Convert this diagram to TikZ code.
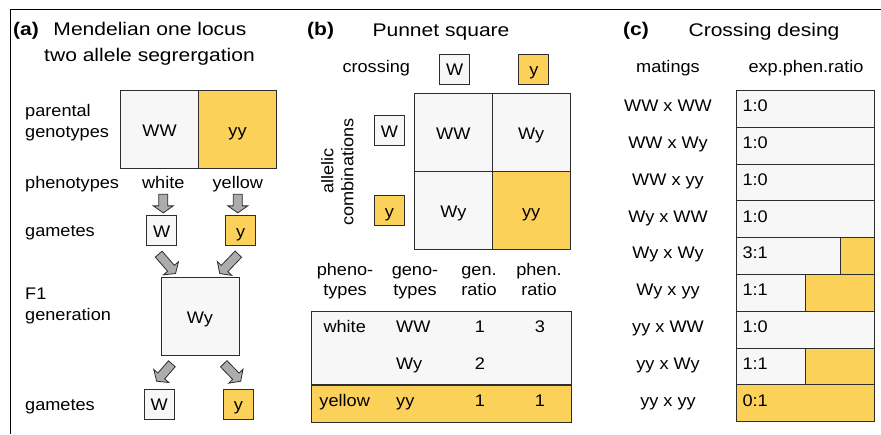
\documentclass[tikz,border=0pt]{standalone}
\usepackage{fontspec}
\setmainfont{Liberation Sans}
\newfontfamily\bodyf{Liberation Sans}[FakeStretch=1.08]
\newfontfamily\titlef{Liberation Sans}[FakeStretch=1.15]
\usetikzlibrary{calc}
\definecolor{yel}{RGB}{252,209,90}
\definecolor{lite}{RGB}{247,247,247}
\definecolor{edge}{RGB}{45,45,45}
\definecolor{arrf}{RGB}{172,172,172}
\newcommand{\blockarrow}[2]{%
  \coordinate (ba-h) at ($(#2)!7pt!(#1)$);
  \filldraw[barrow] ($(#1)!4.5pt!90:(#2)$) -- ($(ba-h)!4.5pt!90:(#2)$) -- ($(ba-h)!10pt!90:(#2)$) -- (#2) -- ($(ba-h)!10pt!-90:(#2)$) -- ($(ba-h)!4.5pt!-90:(#2)$) -- ($(#1)!4.5pt!-90:(#2)$) -- cycle;}
\begin{document}
\begin{tikzpicture}[x=1pt,y=1pt,
  txt/.style={font=\bodyf\fontsize{16.8}{20}\selectfont, inner sep=0pt, text=black},
  ttl/.style={font=\titlef\fontsize{18.3}{22}\selectfont, inner sep=0pt, text=black},
  tag/.style={font=\titlef\bfseries\fontsize{18.3}{22}\selectfont, inner sep=0pt, text=black},
  cell/.style={txt, draw=edge, line width=0.9pt, fill=lite, minimum width=78pt, minimum height=78pt, text height=13pt, text depth=0pt},
  ycell/.style={cell, fill=yel},
  gam/.style={cell, minimum width=30pt, minimum height=30pt},
  ygam/.style={gam, fill=yel},
  bar/.style={draw=edge, fill=lite, line width=0.9pt, minimum width=138pt, minimum height=36.8pt, inner sep=0pt},
  barrow/.style={draw=edge, fill=arrf, line width=0.8pt, line join=miter}]
\useasboundingbox (0,0) rectangle (881,-434);
% frame
\draw[line width=1pt, black] (10.5,-434) -- (10.5,-9.5) -- (881,-9.5);

% ---------- panel (a)
\node[tag, anchor=base west] (taga) at (13,-35) {(a)};
\node[ttl, anchor=base] (ttla1) at (150,-35) {Mendelian one locus};
\node[ttl, anchor=base] (ttla2) at (149.5,-61.5) {two allele segrergation};
\node[txt, anchor=base west] (lpar1) at (25,-116.7) {parental};
\node[txt, anchor=base west] (lpar2) at (25,-137.3) {genotypes};
\node[cell] (pWW) at (159.5,-129.5) {WW};
\node[ycell] (pyy) at (237.5,-129.5) {yy};
\node[txt, anchor=base west] (lphen) at (25,-188.3) {phenotypes};
\node[txt, anchor=base] (white) at (163.3,-188.3) {white};
\node[txt, anchor=base] (yellow) at (237.8,-188.3) {yellow};
\node[txt, anchor=base west] (lgam1) at (25,-236) {gametes};
\node[gam] (g1W) at (161.7,-230.7) {W};
\node[ygam] (g1y) at (240.7,-230.7) {y};
\node[txt, anchor=base west] (lF1) at (25,-299.3) {F1};
\node[txt, anchor=base west] (lgen) at (25,-320.7) {generation};
\node[cell] (F1) at (200,-316.7) {Wy};
\node[txt, anchor=base west] (lgam2) at (25,-410) {gametes};
\node[gam] (g2W) at (159.3,-404.3) {W};
\node[ygam] (g2y) at (238.3,-404.3) {y};

\coordinate (a1s) at ($(white.base)+(0,-6)$);
\coordinate (a1e) at ($(a1s |- g1W.north)+(0,2.4)$);
\coordinate (a2s) at ($(yellow.base)+(0,-6)$);
\coordinate (a2e) at ($(a2s |- g1y.north)+(0,2.4)$);
\coordinate (d1s) at ($(g1W.south)+(-3,-8)$);
\coordinate (d1e) at ($(F1.north west)+(15,3.7)$);
\coordinate (d2s) at ($(g1y.south)+(-2.4,-8)$);
\coordinate (d2e) at ($(F1.north east)+(-19.7,3.7)$);
\coordinate (d3s) at ($(F1.south west)+(11.3,-7.6)$);
\coordinate (d3e) at ($(g2W.north)+(-2.6,7.6)$);
\coordinate (d4s) at ($(F1.south east)+(-15.7,-7.6)$);
\coordinate (d4e) at ($(g2y.north)+(2.4,7.6)$);
\blockarrow{a1s}{a1e}
\blockarrow{a2s}{a2e}
\blockarrow{d1s}{d1e}
\blockarrow{d2s}{d2e}
\blockarrow{d3s}{d3e}
\blockarrow{d4s}{d4e}

% ---------- panel (b)
\node[tag, anchor=base west] (tagb) at (307,-35.5) {(b)};
\node[ttl, anchor=base] (ttlb) at (441,-36) {Punnet square};
\node[txt, anchor=base west] (lcross) at (342.3,-72.7) {crossing};
\node[gam] (cW) at (454.8,-69.3) {W};
\node[ygam] (cy) at (533.8,-69.3) {y};
\node[cell] (pu11) at (453.3,-132.5) {WW};
\node[cell] (pu12) at (531.2,-132.5) {Wy};
\node[cell] (pu21) at (453.3,-210.5) {Wy};
\node[ycell] (pu22) at (531.2,-210.5) {yy};
\node[gam] (rW) at (389.5,-130.7) {W};
\node[ygam] (ry) at (389.5,-210.7) {y};
\node[txt, rotate=90, anchor=base] (lall1) at (333.3,-171) {allelic};
\node[txt, rotate=90, anchor=base] (lall2) at (353.3,-172) {combinations};

\node[txt, anchor=base] (hph1) at (345,-275) {pheno-};
\node[txt, anchor=base] (hph2) at (345,-295.5) {types};
\node[txt, anchor=base] (hge1) at (415,-275) {geno-};
\node[txt, anchor=base] (hge2) at (415,-295.5) {types};
\node[txt, anchor=base] (hgr1) at (479,-275) {gen.};
\node[txt, anchor=base] (hgr2) at (479,-295.5) {ratio};
\node[txt, anchor=base] (hpr1) at (539,-275) {phen.};
\node[txt, anchor=base] (hpr2) at (539,-295.5) {ratio};

\node[draw=edge, fill=lite, line width=0.9pt, minimum width=260pt, minimum height=73.3pt, inner sep=0pt, anchor=north west] (tw) at (310.7,-311) {};
\node[draw=edge, fill=yel, line width=0.9pt, minimum width=260pt, minimum height=36.7pt, inner sep=0pt, anchor=north west] (ty) at (tw.south west) {};
\node[txt, anchor=base] (t11) at (344.7,-332.3) {white};
\node[txt, anchor=base west] (t12) at (396,-332.3) {WW};
\node[txt, anchor=base] (t13) at (480,-332.3) {1};
\node[txt, anchor=base] (t14) at (540,-332.3) {3};
\node[txt, anchor=base west] (t22) at (396,-369) {Wy};
\node[txt, anchor=base] (t23) at (480,-369) {2};
\node[txt, anchor=base] (t31) at (344.7,-406) {yellow};
\node[txt, anchor=base west] (t32) at (396,-406) {yy};
\node[txt, anchor=base] (t33) at (480,-406) {1};
\node[txt, anchor=base] (t34) at (540,-406) {1};

% ---------- panel (c)
\node[tag, anchor=base west] (tagc) at (623,-35.5) {(c)};
\node[ttl, anchor=base] (ttlc) at (764,-36) {Crossing desing};
\node[txt, anchor=base] (hmat) at (668,-72.7) {matings};
\node[txt, anchor=base] (hexp) at (806,-72.7) {exp.phen.ratio};
\foreach \i/\m/\r/\yw in {1/WW x WW/1:0/0, 2/WW x Wy/1:0/0, 3/WW x yy/1:0/0, 4/Wy x WW/1:0/0, 5/Wy x Wy/3:1/34.5, 6/Wy x yy/1:1/69, 7/yy x WW/1:0/0, 8/yy x Wy/1:1/69, 9/yy x yy/0:1/138}{
  \node[bar, anchor=north west] (bar\i) at (736,{-90-36.8*(\i-1)}) {};
  \ifdim\yw pt>0pt
    \node[bar, fill=yel, minimum width=\yw pt, anchor=north east] (bary\i) at (bar\i.north east) {};
  \fi
  \node[txt, anchor=base west] (rat\i) at ($(bar\i.north west)+(6.3,-21.7)$) {\r};
  \node[txt, anchor=base] (mat\i) at ($(bar\i.north west)+(-68,-21.7)$) {\m};
}
\end{tikzpicture}
\end{document}
